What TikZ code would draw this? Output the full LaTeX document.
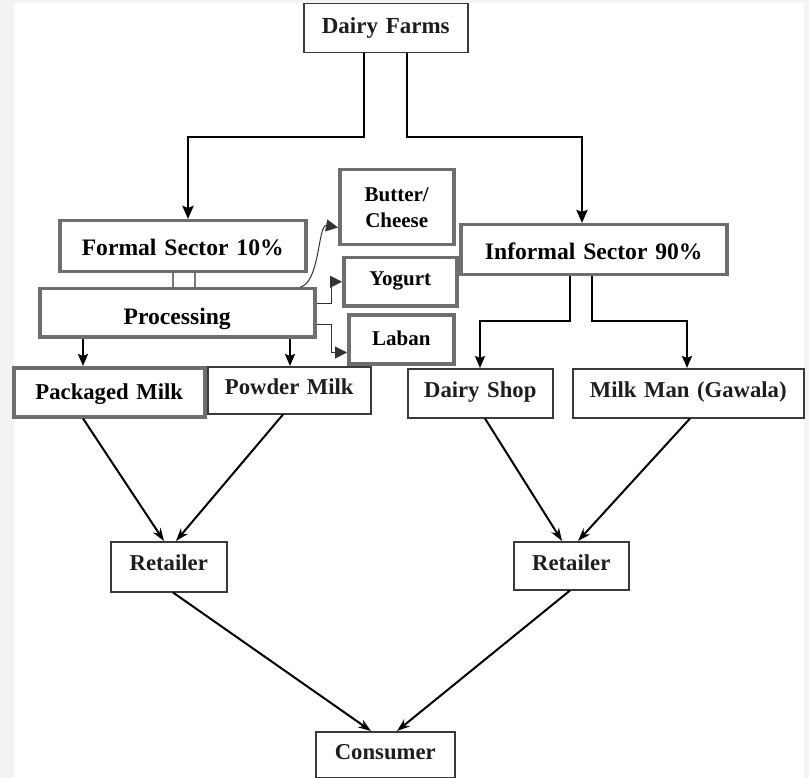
\documentclass[tikz,border=0pt]{standalone}
\usepackage{fontspec}
\setmainfont{Liberation Serif}
\usetikzlibrary{arrows.meta,calc}
\definecolor{margin}{HTML}{F3F3F3}
\definecolor{boxgray}{HTML}{6E6E6E}
\definecolor{boxdark}{HTML}{3A3A3A}
\definecolor{textdark}{HTML}{1E1E1E}
\definecolor{linegray}{HTML}{7A7A7A}
\definecolor{thinline}{HTML}{333333}
\tikzset{
  thinbox/.style={draw=boxdark, line width=1.5pt, inner sep=0pt, align=center, anchor=north west, text=textdark},
  thickbox/.style={draw=boxgray, line width=3.5pt, inner sep=0pt, align=center, anchor=north west, text=black},
  bigfont/.style={font=\bfseries\fontsize{23.6}{28}\selectfont},
  midfont/.style={font=\bfseries\fontsize{22.7}{27}\selectfont},
  smallfont/.style={font=\bfseries\fontsize{21}{26}\selectfont},
  farmline/.style={line width=2.8pt, black, -{Stealth[length=13pt,width=11pt,inset=2pt]}},
  conn/.style={line width=2.2pt, black, -{Stealth[length=12pt,width=10pt,inset=2pt]}},
  diag/.style={line width=2pt, black, -{Stealth[length=13pt,width=9pt]}},
  thinconn/.style={line width=1pt, thinline, -{Triangle[length=12pt,width=12pt]}},
  pairline/.style={line width=2pt, linegray},
}
\begin{document}
\begin{tikzpicture}[x=1pt,y=-1pt]
\useasboundingbox (0,0) rectangle (809,778);
\fill[margin] (0,0) rectangle (809,778);
\fill[white] (14,3) rectangle (804,778);

% boxes
\node[thinbox,font=\bfseries\fontsize{23}{28}\selectfont,text width=164pt,text height=30pt,text depth=19pt] (farms) at (303,3) {Dairy Farms};
\node[thickbox,bigfont,text width=246pt,text height=35pt,text depth=16pt] (formal) at (58,219) {Formal Sector 10\%};
\node[thickbox,bigfont,text width=266pt,text height=35pt,text depth=15pt] (informal) at (459,223) {Informal Sector 90\%};
\node[thickbox,bigfont,text width=275pt,text height=36pt,text depth=12pt] (proc) at (38,287) {Processing};
\node[thickbox,smallfont,minimum width=114pt,minimum height=75pt] (butter) at (338,168) {Butter/\\Cheese};
\node[thickbox,smallfont,text width=113pt,text height=28pt,text depth=20pt] (yogurt) at (342,256) {Yogurt};
\node[thickbox,smallfont,text width=105pt,text height=31pt,text depth=18pt] (laban) at (347,313) {Laban};
\node[thickbox,midfont,text width=191pt,text height=32pt,text depth=17pt] (packaged) at (12,366) {Packaged Milk};
\node[thinbox,midfont,text width=163pt,text height=28pt,text depth=19pt] (powder) at (207,366) {Powder Milk};
\node[thinbox,midfont,text width=145pt,text height=29pt,text depth=20pt] (dairyshop) at (407,368) {Dairy Shop};
\node[thinbox,midfont,text width=231pt,text height=29pt,text depth=20pt] (milkman) at (572,368) {Milk Man (Gawala)};
\node[thinbox,midfont,text width=116pt,text height=29pt,text depth=21pt] (ret1) at (110,541) {Retailer};
\node[thinbox,midfont,text width=115pt,text height=29pt,text depth=19pt] (ret2) at (513,541) {Retailer};
\node[thinbox,midfont,text width=139pt,text height=28pt,text depth=18pt] (consumer) at (315,731) {Consumer};

% connectors
\draw[farmline] (364,0 |- farms.south) |- (188,137) -- (188,0 |- formal.north);
\draw[farmline] (407,0 |- farms.south) |- (582,137) -- (582,0 |- informal.north);

\draw[pairline] (173,0 |- formal.south) -- (173,0 |- proc.north);
\draw[pairline] (195,0 |- formal.south) -- (195,0 |- proc.north);

\draw[conn] (83,0 |- proc.south) -- (83,0 |- packaged.north);
\draw[conn] (290,0 |- proc.south) -- (290,0 |- powder.north);

\draw[thinconn] ($(proc.north east)+(-16,0)$) .. controls (320,282) and (318,224) .. ($(butter.south west)+(0,-19)$);
\draw[thinconn] ($(proc.east)+(0,-9)$) -- ++(15,0) |- (yogurt.west);
\draw[thinconn] ($(proc.east)+(0,12)$) -- ++(15,0) |- ($(laban.south west)+(0,-13)$);

\draw[conn] (570,0 |- informal.south) |- (480,321) -- (480,0 |- dairyshop.north);
\draw[conn] (592,0 |- informal.south) |- (687,321) -- (687,0 |- milkman.north);

\draw[diag] (83,0 |- packaged.south) -- (164,0 |- ret1.north);
\draw[diag] (283,0 |- powder.south) -- (176,0 |- ret1.north);
\draw[diag] (485,0 |- dairyshop.south) -- (562,0 |- ret2.north);
\draw[diag] (690,0 |- milkman.south) -- (578,0 |- ret2.north);
\draw[diag] (173,0 |- ret1.south) -- (371,0 |- consumer.north);
\draw[diag] (570,0 |- ret2.south) -- (397,0 |- consumer.north);
\end{tikzpicture}
\end{document}
